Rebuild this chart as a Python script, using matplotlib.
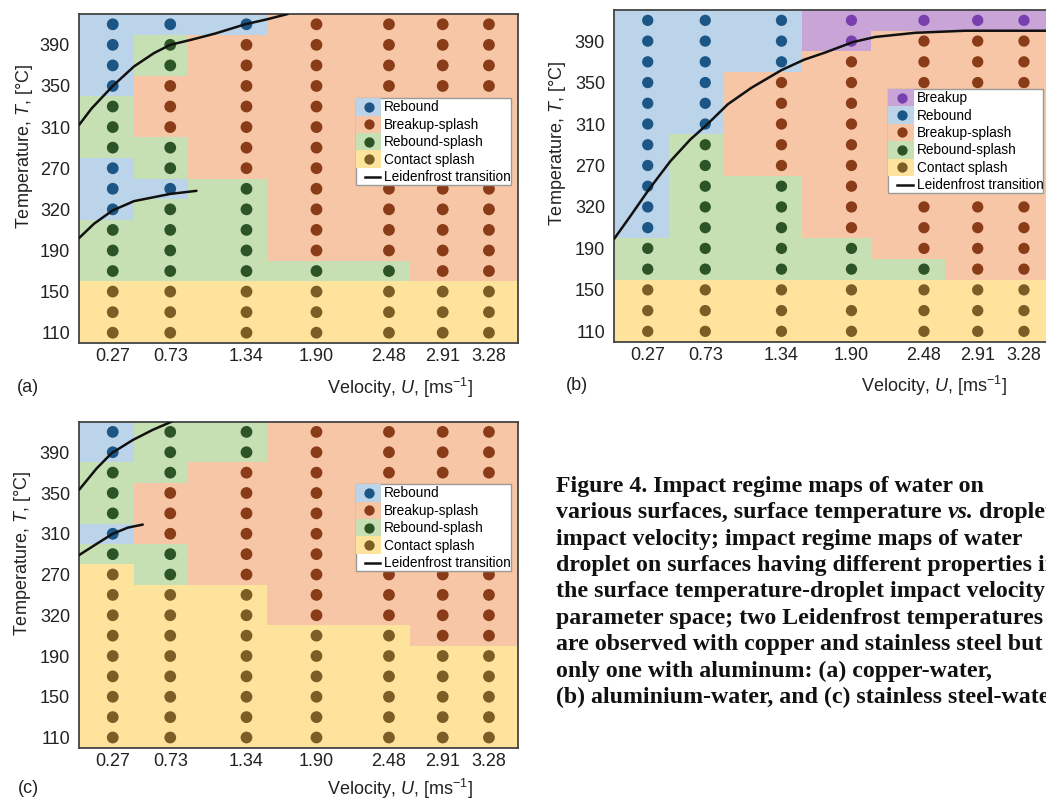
import matplotlib
matplotlib.use('Agg')
import matplotlib.pyplot as plt
import numpy as np
from matplotlib.colors import ListedColormap
from matplotlib.patches import Rectangle, Patch
from matplotlib.lines import Line2D
from matplotlib.legend_handler import HandlerBase

plt.rcParams['font.family'] = ['Liberation Sans', 'DejaVu Sans']
plt.rcParams['mathtext.fontset'] = 'custom'
plt.rcParams['mathtext.rm'] = 'Liberation Sans'
plt.rcParams['mathtext.it'] = 'Liberation Sans:italic'

# ---------------- data ----------------
velocities = [0.27, 0.73, 1.34, 1.90, 2.48, 2.91, 3.28]
velocity_labels = ['0.27', '0.73', '1.34', '1.90', '2.48', '2.91', '3.28']
velocity_edges = [0.0, 0.44, 0.872, 1.505, 2.055, 2.65, 3.10, 3.51]
temperatures = [410, 390, 370, 350, 330, 310, 290, 270, 250, 230, 210, 190, 170, 150, 130, 110]
temp_ticks = [110, 150, 190, 230, 270, 310, 350, 390]
temp_tick_labels = ['110', '150', '190', '320', '270', '310', '350', '390']

# regime codes: P Breakup, R Rebound, B Breakup-splash, G Rebound-splash, C Contact splash
regimes_a = ["RRRBBBB", "RGBBBBB", "RGBBBBB", "RBBBBBB", "GBBBBBB", "GBBBBBB",
             "GGBBBBB", "RGBBBBB", "RRGBBBB", "RGGBBBB", "GGGBBBB", "GGGBBBB",
             "GGGGGBB", "CCCCCCC", "CCCCCCC", "CCCCCCC"]
regimes_b = ["RRRPPPP", "RRRPBBB", "RRRBBBB", "RRBBBBB", "RRBBBBB", "RRBBBBB",
             "RGBBBBB", "RGBBBBB", "RGGBBBB", "RGGBBBB", "RGGBBBB", "GGGGBBB",
             "GGGGGBB", "CCCCCCC", "CCCCCCC", "CCCCCCC"]
regimes_c = ["RGGBBBB", "RGGBBBB", "GGBBBBB", "GBBBBBB", "GBBBBBB", "RBBBBBB",
             "GGBBBBB", "CGBBBBB", "CCCBBBB", "CCCBBBB", "CCCCCBB", "CCCCCCC",
             "CCCCCCC", "CCCCCCC", "CCCCCCC", "CCCCCCC"]

leiden_a_upper_x = [0.0, 0.10, 0.27, 0.44, 0.60, 0.73, 0.90, 1.09, 1.33, 1.51, 1.67]
leiden_a_upper_T = [312, 328, 350, 369, 382, 390, 395, 401, 410, 415, 420]
leiden_a_lower_x = [0.0, 0.12, 0.27, 0.44, 0.73, 0.94]
leiden_a_lower_T = [202, 216, 229, 238, 245, 248]
leiden_b_x = [0.0, 0.13, 0.28, 0.45, 0.61, 0.74, 0.91, 1.10, 1.34, 1.52, 1.69, 1.91, 2.09, 2.41, 2.81, 3.51]
leiden_b_T = [199, 221, 247, 274, 295, 309, 329, 345, 362, 372, 379, 389, 394, 398, 400, 400]
leiden_c_upper_x = [0.0, 0.14, 0.26, 0.43, 0.59, 0.74]
leiden_c_upper_T = [353, 374, 389, 402, 412, 420]
leiden_c_lower_x = [0.0, 0.14, 0.27, 0.39, 0.51]
leiden_c_lower_T = [289, 300, 310, 316, 319]

regime_names = {'P': 'Breakup', 'R': 'Rebound', 'B': 'Breakup-splash',
                'G': 'Rebound-splash', 'C': 'Contact splash'}
codes = ['P', 'R', 'B', 'G', 'C']
dot_colors = {'P': '#7a3fae', 'R': '#1b5687', 'B': '#8a3b17', 'G': '#2d5426', 'C': '#7b5d25'}
bg_colors = {'P': '#c8a5d6', 'R': '#bcd4ea', 'B': '#f6c6a6', 'G': '#c6e0b4', 'C': '#fde39b'}

caption_lines = [
    [("Figure 4. Impact regime maps of water on", 'normal')],
    [("various surfaces, surface temperature", 'normal'), ("vs.", 'italic'), ("droplet", 'normal')],
    [("impact velocity; impact regime maps of water", 'normal')],
    [("droplet on surfaces having different properties in", 'normal')],
    [("the surface temperature-droplet impact velocity", 'normal')],
    [("parameter space; two Leidenfrost temperatures", 'normal')],
    [("are observed with copper and stainless steel but", 'normal')],
    [("only one with aluminum: (a) copper-water,", 'normal')],
    [("(b) aluminium-water, and (c) stainless steel-water", 'normal')],
]

# ---------------- helpers ----------------
class BgDot(HandlerBase):
    def __init__(self, bg, fg, ms):
        super().__init__()
        self.bg, self.fg, self.ms = bg, fg, ms

    def create_artists(self, legend, orig_handle, xdescent, ydescent, width, height, fontsize, trans):
        r = Rectangle((-xdescent, -ydescent), width, height, facecolor=self.bg,
                      edgecolor='none', transform=trans)
        d = Line2D([-xdescent + 0.52 * width], [-ydescent + height / 2], marker='o',
                   ms=self.ms, mfc=self.fg, mec='none', ls='none', transform=trans)
        return [r, d]


class ShortLine(HandlerBase):
    def create_artists(self, legend, orig_handle, xdescent, ydescent, width, height, fontsize, trans):
        yc = -ydescent + height / 2
        l = Line2D([-xdescent + 0.35 * width, -xdescent + 0.95 * width], [yc, yc],
                   color='#111111', lw=1.8, transform=trans)
        return [l]


W, H = 1046, 799
fig = plt.figure(figsize=(W / 100, H / 100), dpi=100)


def axes_px(left, top, width, height):
    return fig.add_axes([left / W, 1 - (top + height) / H, width / W, height / H])


def draw_panel(ax, regimes, curves, legend_codes, legend_kw, tag, tag_xy, xlabel_xy, ylabel_x, dot_s):
    present = codes
    cmap = ListedColormap([bg_colors[c] for c in present])
    grid = np.array([[present.index(ch) for ch in row] for row in regimes])
    t_edges = [t + 10 for t in temperatures] + [temperatures[-1] - 10]
    ax.pcolormesh(velocity_edges, t_edges, grid, cmap=cmap, vmin=-0.5,
                  vmax=len(present) - 0.5, shading='flat', zorder=0)
    for code in present:
        xs, ys = [], []
        for i, row in enumerate(regimes):
            for j, ch in enumerate(row):
                if ch == code:
                    xs.append(velocities[j])
                    ys.append(temperatures[i])
        if xs:
            ax.scatter(xs, ys, s=dot_s, c=dot_colors[code], edgecolors='none', zorder=2)
    for cx, cy in curves:
        ax.plot(cx, cy, color='#111111', lw=1.8, zorder=3, solid_capstyle='round')
    ax.set_xlim(0.0, 3.51)
    ax.set_ylim(100, 420)
    ax.set_xticks(velocities)
    ax.set_xticklabels(velocity_labels)
    ax.set_yticks(temp_ticks)
    ax.set_yticklabels(temp_tick_labels)
    ax.tick_params(axis='both', length=0, labelsize=13, colors='#222222')
    ax.tick_params(axis='y', pad=6.5)
    ax.tick_params(axis='x', pad=3.5)
    for sp in ax.spines.values():
        sp.set_color('#444444')
        sp.set_linewidth(1.3)
    ax.set_ylabel('Temperature, $T$, [°C]', fontsize=13, color='#222222')
    ax.yaxis.label.set_verticalalignment('center')
    ax.yaxis.set_label_coords(ylabel_x, 0.597)
    ax.set_xlabel('Velocity, $U$, [ms$^{-1}$]', fontsize=13, color='#222222')
    ax.xaxis.label.set_horizontalalignment('right')
    ax.xaxis.label.set_verticalalignment('center')
    ax.xaxis.set_label_coords(*xlabel_xy)
    ax.text(tag_xy[0], tag_xy[1], tag, transform=ax.transAxes, fontsize=13,
            ha='center', va='center', color='#222222')

    handles, labels, hmap = [], [], {}
    for code in legend_codes:
        h = Patch(label=regime_names[code])
        handles.append(h)
        labels.append(regime_names[code])
        hmap[h] = BgDot(bg_colors[code], dot_colors[code], 7.4)
    hl = Line2D([], [], color='k')
    handles.append(hl)
    labels.append('Leidenfrost transition')
    hmap[hl] = ShortLine()
    leg = ax.legend(handles, labels, handler_map=hmap, fontsize=9.8,
                    borderpad=0.0, labelspacing=0.0, handlelength=1.9, handleheight=1.59,
                    handletextpad=0.18, borderaxespad=0.0, fancybox=False,
                    framealpha=1.0, edgecolor='#9a9a9a', **legend_kw)
    leg.get_frame().set_linewidth(1.0)
    leg.set_zorder(5)


ax_a = axes_px(79, 14, 438.7, 329)
draw_panel(ax_a, regimes_a,
           [(leiden_a_upper_x, leiden_a_upper_T), (leiden_a_lower_x, leiden_a_lower_T)],
           ['R', 'B', 'G', 'C'],
           dict(loc='upper right', bbox_to_anchor=(0.984, 0.744)),
           '(a)', (-0.116, -0.136), (0.898, -0.136), -0.125, 72)

ax_b = axes_px(614, 10, 438.7, 331.7)
draw_panel(ax_b, regimes_b, [(leiden_b_x, leiden_b_T)],
           ['P', 'R', 'B', 'G', 'C'],
           dict(loc='upper left', bbox_to_anchor=(0.6253, 0.762)),
           '(b)', (-0.084, -0.132), (0.896, -0.132), -0.128, 66)

ax_c = axes_px(79, 421.7, 438.7, 326)
draw_panel(ax_c, regimes_c,
           [(leiden_c_upper_x, leiden_c_upper_T), (leiden_c_lower_x, leiden_c_lower_T)],
           ['R', 'B', 'G', 'C'],
           dict(loc='upper right', bbox_to_anchor=(0.984, 0.808)),
           '(c)', (-0.116, -0.126), (0.898, -0.126), -0.129, 72)

# ---------------- caption ----------------
renderer = fig.canvas.get_renderer()
cap_kw = dict(family=['Liberation Serif', 'DejaVu Serif'], weight='bold', fontsize=17.2,
              color='#111111', va='baseline', ha='left')
probe1 = fig.text(0, 0, 'a a', **cap_kw)
probe2 = fig.text(0, 0, 'aa', **cap_kw)
space_w = probe1.get_window_extent(renderer).width - probe2.get_window_extent(renderer).width
probe1.remove()
probe2.remove()
x_start = 556
for i, segs in enumerate(caption_lines):
    ybase = 1 - (491.7 + 26.45 * i) / H
    x = x_start
    for k, (txt, style) in enumerate(segs):
        t = fig.text(x / W, ybase, txt, style=style, **cap_kw)
        x += t.get_window_extent(renderer).width + space_w

fig.savefig('out.png', dpi=100)
